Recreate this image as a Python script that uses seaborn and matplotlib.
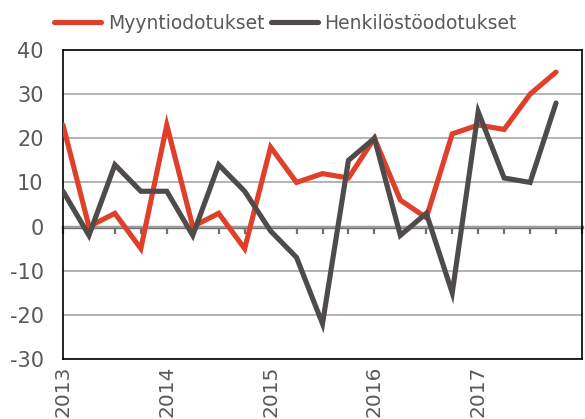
import matplotlib
matplotlib.use("Agg")
import matplotlib.pyplot as plt
import numpy as np
import pandas as pd
import seaborn as sns

# Quarterly data 2013Q1 - 2017Q4
quarters = list(range(20))
myynti = [23, 0, 3, -5, 23, 0, 3, -5, 18, 10, 12, 11, 20, 6, 2, 21, 23, 22, 30, 35]
henkilosto = [8, -2, 14, 8, 8, -2, 14, 8, -1, -7, -22, 15, 20, -2, 3, -15, 26, 11, 10, 28]
years = ["2013", "2014", "2015", "2016", "2017"]
series_names = ["Myyntiodotukset", "Henkilöstöodotukset"]
colors = ["#E0402A", "#4F4B4A"]

df = pd.DataFrame({
    "q": quarters * 2,
    "value": myynti + henkilosto,
    "series": [series_names[0]] * 20 + [series_names[1]] * 20,
})

sns.set_style("white")
plt.rcParams["font.family"] = ["DejaVu Sans"]
plt.rcParams["axes.unicode_minus"] = False

fig = plt.figure(figsize=(5.85, 4.19), dpi=100)
ax = fig.add_axes([63 / 585, 1 - 359 / 419, 519 / 585, 309 / 419])

# gridlines
ax.set_ylim(-30, 40)
ax.set_xlim(0, 20)
ax.set_yticks(range(-30, 41, 10))
ax.grid(axis="y", color="#A6A6A6", lw=1.2)
ax.grid(axis="x", visible=False)

# zero axis with category ticks
sec = ax.secondary_xaxis(30 / 70)
sec.set_xticks(range(21))
sec.tick_params(length=5, width=1.6, color="#6F6F6F", labelbottom=False, direction="out")
sec.spines["bottom"].set_color("#6F6F6F")
sec.spines["bottom"].set_linewidth(2.4)

sns.lineplot(data=df, x="q", y="value", hue="series", palette=colors,
             linewidth=3.7, ax=ax, legend=False, zorder=3)
for line in ax.lines:
    line.set_solid_capstyle("round")
    line.set_solid_joinstyle("miter")

ax.set_xticks([0, 4, 8, 12, 16], labels=years, rotation=90)
ax.tick_params(axis="x", length=0, pad=5, labelsize=14.5, labelcolor="#595959")
ax.tick_params(axis="y", length=0, pad=14, labelsize=15, labelcolor="#595959")
ax.set_xlabel("")
ax.set_ylabel("")
for sp in ax.spines.values():
    sp.set_color("#000000")
    sp.set_linewidth(1.2)

handles = [plt.Line2D([], [], color=c, lw=3.7, solid_capstyle="round") for c in colors]
fig.legend(handles, series_names, loc="upper left", bbox_to_anchor=(45 / 585, 0.99),
           ncol=2, frameon=False, fontsize=13.5, handlelength=2.5, handletextpad=0.35,
           columnspacing=0.35, labelcolor="#595959", borderaxespad=0.1)

fig.savefig("out.png", dpi=100)
